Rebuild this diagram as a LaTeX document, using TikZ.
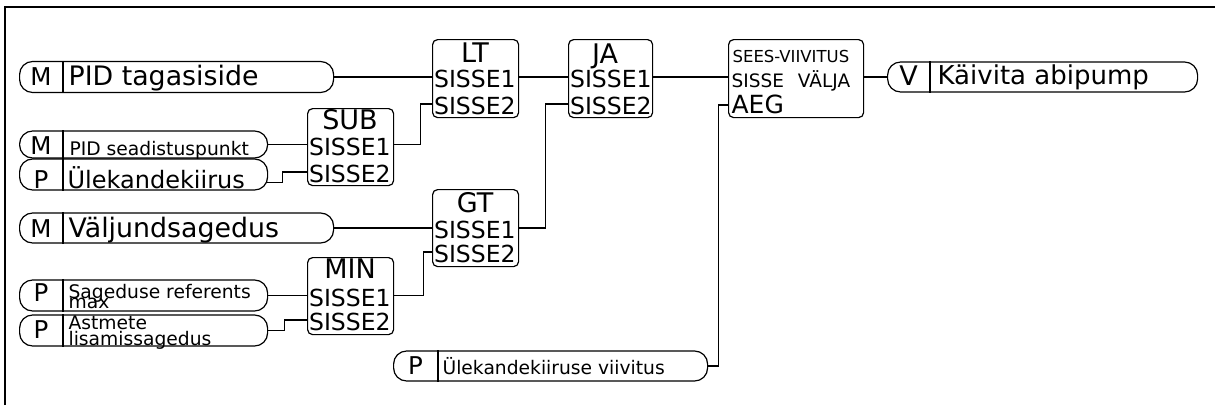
\documentclass[tikz,border=0pt]{standalone}
\usepackage{fontspec}
\setmainfont{DejaVu Sans}
\usepackage{tikz}
\usetikzlibrary{positioning}

\begin{document}
\begin{tikzpicture}[
    x=1pt, y=-1pt,
    line width=1.2pt,
    pill/.style={rectangle, draw, rounded corners=13pt, minimum height=31pt, inner sep=0pt, anchor=west},
    tag/.style={font=\fontsize{24.5}{24.5}\selectfont, inner sep=0pt, anchor=base},
    big/.style={font=\fontsize{26.8}{26.8}\selectfont, inner sep=0pt, anchor=base west},
    small/.style={font=\fontsize{18.7}{18.7}\selectfont, inner sep=0pt, anchor=base west},
    blk/.style={rectangle, draw, rounded corners=5pt, inner sep=0pt, minimum width=86pt, minimum height=77pt, anchor=north west},
    ttl/.style={font=\fontsize{27}{27}\selectfont, inner sep=0pt, anchor=base},
    inp/.style={font=\fontsize{23.5}{23.5}\selectfont, inner xsep=1.5pt, inner ysep=0pt, text height=21pt, text depth=0pt, anchor=west},
    wire/.style={line width=1.2pt},
]
    \useasboundingbox (0,0) rectangle (1215,405);
    \draw[line width=1.6pt] (5,405) -- (5,7) -- (1215,7);

    % inputs
    \node[pill, minimum width=314pt] (fb) at (19,77) {};
    \draw ([xshift=44pt]fb.north west) -- ([xshift=44pt]fb.south west);
    \node[tag] (fbT) at (41,85) {M};
    \node[big] (fbL) at (68,85) {PID tagasiside};

    \node[pill, minimum width=248pt, minimum height=27pt] (sp) at (19,144.5) {};
    \draw ([xshift=44pt]sp.north west) -- ([xshift=44pt]sp.south west);
    \node[tag] (spT) at (41,154) {M};
    \node[small] (spL) at (69,155) {PID seadistuspunkt};

    \node[pill, minimum width=248pt] (tr) at (19,174.5) {};
    \draw ([xshift=44pt]tr.north west) -- ([xshift=44pt]tr.south west);
    \node[tag] (trT) at (41,188) {P};
    \node[big, font=\fontsize{24}{24}\selectfont] (trL) at (67,188) {Ülekandekiirus};

    \node[pill, minimum width=314pt, minimum height=30pt] (of) at (19,228) {};
    \draw ([xshift=44pt]of.north west) -- ([xshift=44pt]of.south west);
    \node[tag] (ofT) at (41,237) {M};
    \node[big] (ofL) at (68,237) {Väljundsagedus};

    \node[pill, minimum width=248pt] (fr) at (19,295.5) {};
    \draw ([xshift=44pt]fr.north west) -- ([xshift=44pt]fr.south west);
    \node[tag] (frT) at (41,301) {P};
    \node[small] (frL1) at (68,298) {Sageduse referents};
    \node[small] (frL2) at (68,308) {max};

    \node[pill, minimum width=248pt] (sa) at (19,330.5) {};
    \draw ([xshift=44pt]sa.north west) -- ([xshift=44pt]sa.south west);
    \node[tag] (saT) at (41,338) {P};
    \node[small] (saL1) at (68,329) {Astmete};
    \node[small] (saL2) at (68,345) {lisamissagedus};

    \node[pill, minimum width=314pt, minimum height=30pt] (dl) at (393,366) {};
    \draw ([xshift=45pt]dl.north west) -- ([xshift=45pt]dl.south west);
    \node[tag] (dlT) at (415.5,374) {P};
    \node[small] (dlL) at (442,374) {Ülekandekiiruse viivitus};

    % blocks
    \node[blk] (sub) at (307,108) {};
    \node[ttl] (subT) at (350,129) {SUB};
    \node[inp] (sub1) at (307,144.5) {SISSE1};
    \node[inp] (sub2) at (307,172) {SISSE2};

    \node[blk] (min) at (307,257) {};
    \node[ttl] (minT) at (350,278) {MIN};
    \node[inp] (min1) at (307,295.5) {SISSE1};
    \node[inp] (min2) at (307,320) {SISSE2};

    \node[blk, minimum height=78pt] (lt) at (432,39) {};
    \node[ttl] (ltT) at (475,62) {LT};
    \node[inp] (lt1) at (432,77) {SISSE1};
    \node[inp] (lt2) at (432,104) {SISSE2};

    \node[blk] (gt) at (432,189) {};
    \node[ttl] (gtT) at (475,212) {GT};
    \node[inp] (gt1) at (432,228) {SISSE1};
    \node[inp] (gt2) at (432,252) {SISSE2};

    \node[blk, minimum width=84pt, minimum height=78pt] (ja) at (568,39) {};
    \node[ttl] (jaT) at (605,63) {JA};
    \node[inp] (ja1) at (568,77) {SISSE1};
    \node[inp] (ja2) at (568,104) {SISSE2};

    \node[blk, minimum width=135pt, minimum height=78pt] (dly) at (728,39) {};
    \node[small, font=\fontsize{16.5}{16.5}\selectfont] (dlyT) at (732,62) {SEES-VIIVITUS};
    \node[inp, font=\fontsize{18.5}{18.5}\selectfont, inner xsep=3pt, text height=20pt] (dlyIO) at (728,77) {SISSE\hspace{14pt}VÄLJA};
    \node[inp, font=\fontsize{25}{25}\selectfont, inner xsep=3pt, text height=16pt] (dlyA) at (728,105) {AEG};

    % output
    \node[pill, minimum width=310pt, minimum height=30pt] (out) at (887,77) {};
    \draw ([xshift=43pt]out.north west) -- ([xshift=43pt]out.south west);
    \node[tag, font=\fontsize{27}{27}\selectfont] (outT) at (908.5,85) {V};
    \node[big, font=\fontsize{26}{26}\selectfont] (outL) at (937,84) {Käivita abipump};

    % wires
    \draw[wire] (fb.east) -- (lt1.west);
    \draw[wire] (sp.east) -- (sub1.west);
    \draw[wire] ([xshift=-2pt, yshift=-8pt]tr.east) -- ++(16,0) |- (sub2.west);
    \draw[wire] (of.east) -- (gt1.west);
    \draw[wire] (fr.east) -- (min1.west);
    \draw[wire] (sa.east) -- ++(16,0) |- (min2.west);
    \draw[wire] (sub.east |- sub1.west) -- ++(26,0) |- (lt2.west);
    \draw[wire] (min.east |- min1.west) -- ++(29,0) |- (gt2.west);
    \draw[wire] (lt.east |- lt1.west) -- (ja1.west);
    \draw[wire] (gt.east |- gt1.west) -- ++(26,0) |- (ja2.west);
    \draw[wire] (ja.east |- ja1.west) -- (dlyIO.west);
    \draw[wire] (dl.east) -- ++(10,0) |- (dlyA.west);
    \draw[wire] (dly.east |- dlyIO.west) -- (out.west);
\end{tikzpicture}
\end{document}
